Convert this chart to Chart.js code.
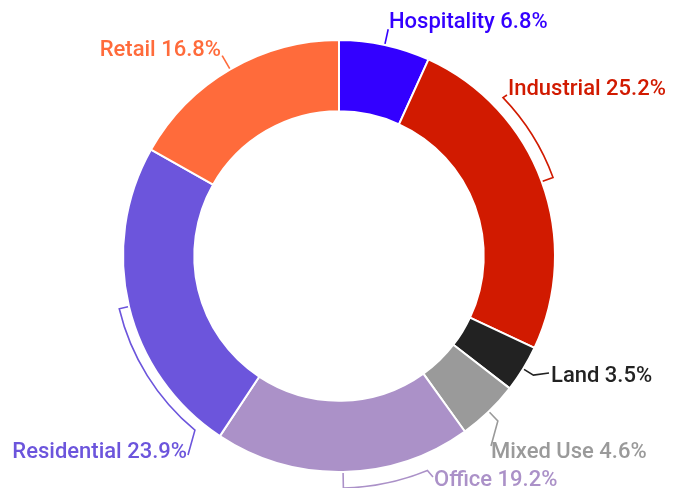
<!DOCTYPE html>
<html>
<head>
<meta charset="utf-8">
<script src="https://cdn.jsdelivr.net/npm/chart.js@4/dist/chart.umd.min.js"></script>
<style>
html,body{margin:0;padding:0;background:#fff;}
#wrap{width:679px;height:488px;position:relative;}
</style>
</head>
<body>
<div id="wrap"><canvas id="c" width="679" height="488"></canvas></div>
<script>
const categories = ['Hospitality','Industrial','Land','Mixed Use','Office','Residential','Retail'];
const shares = [6.8, 25.2, 3.5, 4.6, 19.2, 23.9, 16.8];
const sliceColors = ['#3300ff','#d11a00','#222222','#9a9a9a','#ab91c8','#6c55dc','#ff6b3b'];

// label layout (offsets relative to chart centre, angles in degrees clockwise from top)
const labelLayout = [
  {type:'line', elbow:16, tx:50, ty:-228, align:'left'},
  {type:'bracket', r:228, end:46, via:[168,-161], tx:169, ty:-161, align:'left'},
  {type:'line', elbow:12, via:[210,117], tx:212, ty:126, align:'left'},
  {type:'line', elbow:13, via:[152,190], tx:152, ty:202, align:'left'},
  {type:'bracket', r:232, end:157.6, via:[94,221], tx:95, ty:230, align:'left'},
  {type:'bracket', r:226, end:219.6, via:[-151,199], tx:-152, ty:202, align:'right'},
  {type:'line', elbow:16, tx:-118, ty:-200, align:'right'}
];

const labelPlugin = {
  id:'outLabels',
  afterDatasetsDraw(chart){
    const ctx = chart.ctx;
    const meta = chart.getDatasetMeta(0);
    ctx.save();
    ctx.font = '500 22px Roboto';
    ctx.lineWidth = 1.6;
    ctx.lineJoin = 'miter';
    meta.data.forEach((arc, i) => {
      const p = arc.getProps(['x','y','startAngle','endAngle','outerRadius'], true);
      const cx = p.x, cy = p.y, R = p.outerRadius;
      const mid = (p.startAngle + p.endAngle) / 2;
      const pt = (a, r) => [cx + Math.cos(a) * r, cy + Math.sin(a) * r];
      const L = labelLayout[i];
      ctx.strokeStyle = sliceColors[i];
      ctx.fillStyle = sliceColors[i];
      ctx.beginPath();
      const s = pt(mid, R + 1);
      ctx.moveTo(s[0], s[1]);
      if (L.type === 'line') {
        const e = pt(mid, R + L.elbow);
        ctx.lineTo(e[0], e[1]);
        if (L.via) ctx.lineTo(cx + L.via[0], cy + L.via[1]);
      } else {
        const e = pt(mid, L.r);
        ctx.lineTo(e[0], e[1]);
        const endA = (L.end - 90) * Math.PI / 180;
        ctx.arc(cx, cy, L.r, mid, endA, endA < mid);
        ctx.lineTo(cx + L.via[0], cy + L.via[1]);
      }
      ctx.stroke();
      ctx.textAlign = L.align;
      ctx.textBaseline = 'alphabetic';
      ctx.fillText(categories[i] + ' ' + shares[i].toFixed(1) + '%', cx + L.tx, cy + L.ty);
    });
    ctx.restore();
  }
};

new Chart(document.getElementById('c'), {
  type:'doughnut',
  data:{
    labels: categories,
    datasets:[{
      data: shares,
      backgroundColor: sliceColors,
      borderColor:'#ffffff',
      borderWidth:2
    }]
  },
  options:{
    responsive:false,
    animation:false,
    cutout:'67%',
    layout:{padding:{top:39,bottom:15,left:122,right:123}},
    plugins:{legend:{display:false}, tooltip:{enabled:false}}
  },
  plugins:[labelPlugin]
});
</script>
</body>
</html>
